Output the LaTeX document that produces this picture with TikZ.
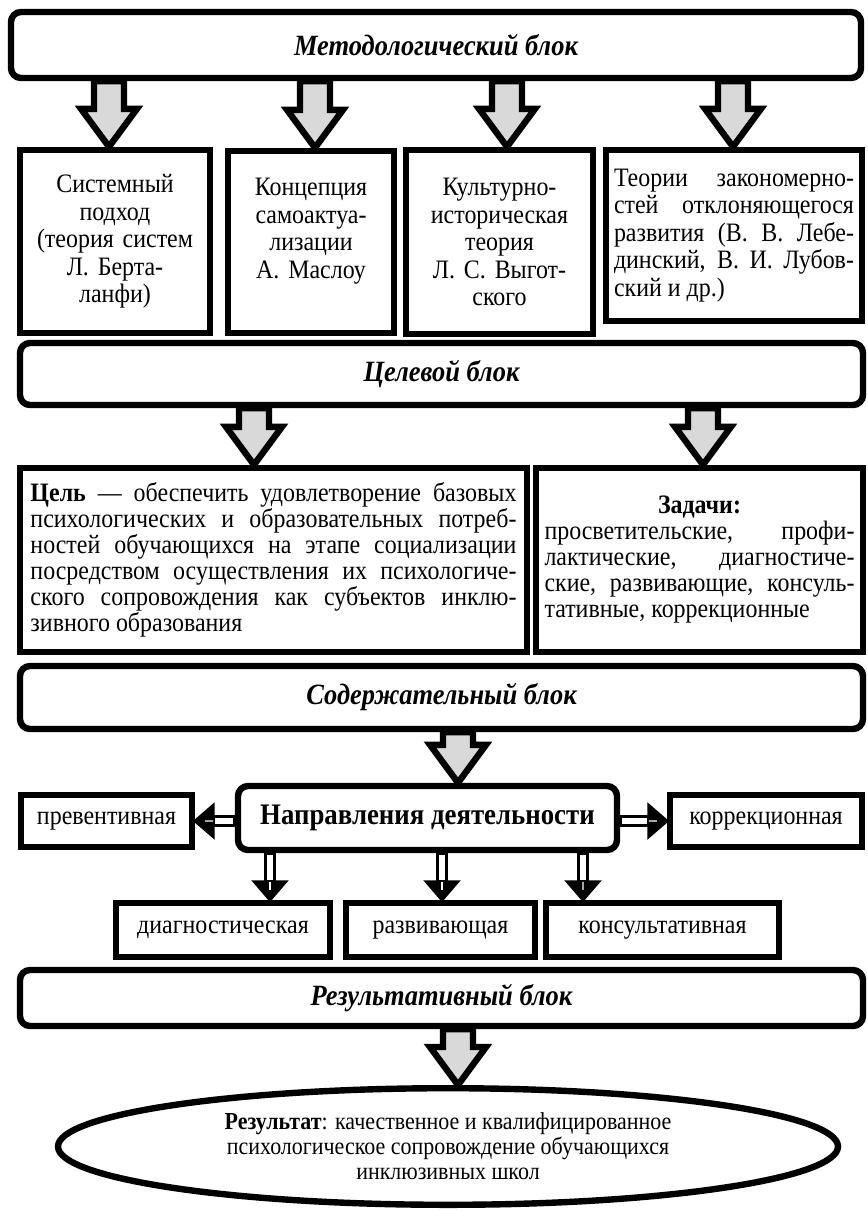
\documentclass[tikz,border=0pt]{standalone}
\usepackage{fontspec}
\setmainfont[FakeStretch=0.9]{Liberation Serif}
\usetikzlibrary{calc,shapes.geometric}
\def\blockarrow[#1](#2)(#3)(#4:#5:#6){\coordinate (ab) at ($(#3)!#6!(#2)$);
	\draw[#1] ($(#2)!#4!90:(#3)$) -- ($(ab)!#4!90:(#3)$) -- ($(ab)!#5!90:(#3)$) -- (#3) -- ($(ab)!#5!-90:(#3)$) -- ($(ab)!#4!-90:(#3)$) -- ($(#2)!#4!-90:(#3)$) -- cycle;}
\def\doublearrow[#1](#2)(#3)(#4:#5:#6){\coordinate (ab) at ($(#3)!#6!(#2)$);
	\draw[#1, fill=white] ($(#2)!#4!90:(#3)$) -- ($(ab)!#4!90:(#3)$) -- ($(ab)!#4!-90:(#3)$) -- ($(#2)!#4!-90:(#3)$) -- cycle;
	\draw[#1, fill=black] ($(ab)!#5!90:(#3)$) -- (#3) -- ($(ab)!#5!-90:(#3)$) -- cycle;
	\draw[white, line width=0.6pt] (ab) -- ($(ab)!0.45!(#3)$);}

\begin{document}
\begin{tikzpicture}[x=0.5pt, y=-0.5pt,
		blockhead/.style={draw, line width=3.2pt, rounded corners=5pt, fill=white, inner sep=0pt, font=\fontsize{14.7}{16}\selectfont\bfseries\itshape},
		textbox/.style={draw, line width=3.2pt, fill=white, inner sep=0pt, font=\fontsize{13.3}{13.75}\selectfont},
		smallbox/.style={draw, line width=3.2pt, fill=white, inner sep=0pt, font=\fontsize{13.3}{14}\selectfont},
		fatarrow/.style={line width=3.2pt, fill=black!15, line join=miter},
		thinarrow/.style={line width=1.5pt, line join=miter}]
			%%%%% START %%%%%
			
			\useasboundingbox (0,0) rectangle (868,1211);
			
			\node[blockhead, minimum width=425pt, minimum height=33pt] (meth) at (436,45) {Методологический блок};
			
			\node[textbox, minimum width=95pt, minimum height=91.5pt, text width=90pt, align=center] (sys) at (115,241.5) {Системный\\подход\\(теория систем\\Л. Берта-\\ланфи)};
			\node[textbox, minimum width=83pt, minimum height=91pt, text width=78pt, align=center] (maslow) at (311,242) {Концепция\\самоактуа-\\лизации\\А. Маслоу\\\mbox{}};
			\node[textbox, minimum width=93.5pt, minimum height=92pt, text width=88pt, align=center] (vyg) at (499.5,242) {Культурно-\\историческая\\теория\\Л. С. Выгот-\\ского};
			\node[textbox, minimum width=128pt, minimum height=85.5pt, text width=120pt, align=justify] (leb) at (734,235.5) {Теории закономерно-\linebreak стей отклоняющегося\linebreak развития (В. В. Лебе-\linebreak динский, В. И. Лубов-\linebreak ский и др.)};
			
			\node[blockhead, minimum width=421.5pt, minimum height=31pt] (goal) at (441.5,374) {Целевой блок};
			
			\node[textbox, minimum width=253.5pt, minimum height=92pt, text width=243pt, align=justify, font=\fontsize{13.3}{13}\selectfont] (aim) at (273.5,560) {\textbf{Цель} — обеспечить удовлетворение базовых\linebreak психологических и образовательных потреб-\linebreak ностей обучающихся на этапе социализации\linebreak посредством осуществления их психологиче-\linebreak ского сопровождения как субъектов инклю-\linebreak зивного образования};
			\node[textbox, minimum width=163.5pt, minimum height=92pt, text width=155pt, align=justify, font=\fontsize{13.3}{13}\selectfont] (tasks) at (699.5,560) {\makebox[\linewidth]{\textbf{Задачи:}}\linebreak просветительские, профи-\linebreak лактические, диагностиче-\linebreak ские, развивающие, консуль-\linebreak тативные, коррекционные};
			
			\node[blockhead, minimum width=421.5pt, minimum height=31.5pt] (content) at (441.5,697.5) {Содержательный блок};
			
			\node[blockhead, minimum width=189.5pt, minimum height=32pt, font=\fontsize{14.9}{16}\selectfont\bfseries] (dirs) at (427.5,818) {Направления деятельности};
			\node[smallbox, minimum width=85.5pt, minimum height=26pt] (prev) at (106.5,821) {превентивная};
			\node[smallbox, minimum width=96pt, minimum height=26pt] (corr) at (766,821) {коррекционная};
			
			\node[smallbox, minimum width=107pt, minimum height=27pt] (diag) at (223,930) {диагностическая};
			\node[smallbox, minimum width=94.5pt, minimum height=27pt] (devel) at (440.5,930) {развивающая};
			\node[smallbox, minimum width=116.5pt, minimum height=27pt] (cons) at (662.5,930) {консультативная};
			
			\node[blockhead, minimum width=421.5pt, minimum height=28pt] (result) at (441.5,998) {Результативный блок};
			
			\node[draw, ellipse, line width=3.2pt, fill=white, inner sep=0pt, minimum width=390pt, minimum height=58.3pt, align=center, font=\fontsize{12.2}{12.5}\selectfont] (effect) at (448,1146.5) {\textbf{Результат}: качественное и квалифицированное\\психологическое сопровождение обучающихся\\инклюзивных школ};
			
			% block arrows
			\coordinate (t1) at ([xshift=-3pt]sys.north);
			\coordinate (s1) at (meth.south -| t1);
			\blockarrow[fatarrow](s1)(t1)(7.5pt:14pt:19pt)
			\coordinate (t2) at ([xshift=2pt]maslow.north);
			\coordinate (s2) at (meth.south -| t2);
			\blockarrow[fatarrow](s2)(t2)(7.5pt:14pt:19pt)
			\coordinate (t3) at ([xshift=3.75pt]vyg.north);
			\coordinate (s3) at (meth.south -| t3);
			\blockarrow[fatarrow](s3)(t3)(7.5pt:14pt:19pt)
			\coordinate (t4) at ([xshift=-0.5pt]leb.north);
			\coordinate (s4) at (meth.south -| t4);
			\blockarrow[fatarrow](s4)(t4)(7.5pt:14pt:19pt)
			
			\coordinate (t5) at ([xshift=-9.75pt]aim.north);
			\coordinate (s5) at (goal.south -| t5);
			\blockarrow[fatarrow](s5)(t5)(7.5pt:14pt:19pt)
			\coordinate (t6) at ([xshift=1.75pt]tasks.north);
			\coordinate (s6) at (goal.south -| t6);
			\blockarrow[fatarrow](s6)(t6)(7.5pt:14pt:19pt)
			
			\coordinate (t7) at ([xshift=15.25pt]dirs.north);
			\coordinate (s7) at (content.south -| t7);
			\blockarrow[fatarrow](s7)(t7)(7.5pt:14pt:19pt)
			
			\coordinate (t8) at ([xshift=5pt]effect.north);
			\coordinate (s8) at (result.south -| t8);
			\blockarrow[fatarrow](s8)(t8)(7.5pt:14pt:19pt)
			
			% double arrows
			\coordinate (t9) at (prev.east);
			\coordinate (s9) at (dirs.west |- t9);
			\doublearrow[thinarrow](s9)(t9)(2.25pt:7.75pt:9pt)
			\coordinate (t10) at (corr.west);
			\coordinate (s10) at (dirs.east |- t10);
			\doublearrow[thinarrow](s10)(t10)(2.25pt:7.75pt:9pt)
			
			\coordinate (t11) at ([xshift=23.5pt]diag.north);
			\coordinate (s11) at (dirs.south -| t11);
			\doublearrow[thinarrow](s11)(t11)(2.25pt:7.75pt:9pt)
			\coordinate (t12) at ([xshift=0.75pt]devel.north);
			\coordinate (s12) at (dirs.south -| t12);
			\doublearrow[thinarrow](s12)(t12)(2.25pt:7.75pt:9pt)
			\coordinate (t13) at ([xshift=-39.75pt]cons.north);
			\coordinate (s13) at (dirs.south -| t13);
			\doublearrow[thinarrow](s13)(t13)(2.25pt:7.75pt:9pt)
			
			%%%%% END %%%%%
\end{tikzpicture}
\end{document}
